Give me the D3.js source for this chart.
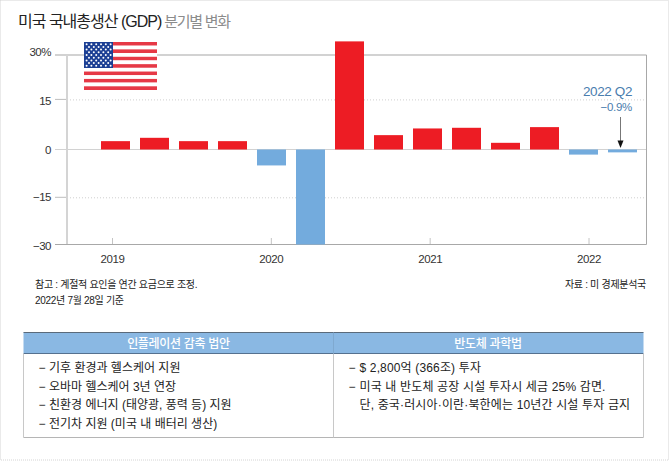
<!DOCTYPE html>
<html lang="ko">
<head>
<meta charset="utf-8">
<script src="https://cdn.jsdelivr.net/npm/d3@7/dist/d3.min.js"></script>
<style>
html,body{margin:0;padding:0;background:#fff;}
svg{display:block;}
text{font-family:"Liberation Sans","Noto Sans CJK KR",sans-serif;}
</style>
</head>
<body>
<div id="chart"></div>
<script>
/* US GDP by quarter. */
var quarters=["2019 Q1","2019 Q2","2019 Q3","2019 Q4","2020 Q1","2020 Q2","2020 Q3","2020 Q4",
    "2021 Q1","2021 Q2","2021 Q3","2021 Q4","2022 Q1","2022 Q2"];
var gdpValues=[2.5,3.5,2.5,2.5,-5,-30,34.6,4.3,6.3,6.5,2,6.7,-1.6,-0.9];
var yTicks=[30,15,0,-15,-30];
var yTickLabels=["30%","15","0","−15","−30"];
var years=[2019,2020,2021,2022];
var noteLines=["참고 : 계절적 요인을 연간 요금으로 조정.","2022년 7월 28일 기준"];
var sourceLine="자료 : 미 경제분석국";
var tableHeaders=["인플레이션 감축 법안","반도체 과학법"];
var leftItems=["기후 환경과 헬스케어 지원","오바마 헬스케어 3년 연장","친환경 에너지 (태양광, 풍력 등) 지원","전기차 지원 (미국 내 배터리 생산)"];
var rightItems=["$ 2,800억 (366조) 투자","미국 내 반도체 공장 시설 투자시 세금 25% 감면.","단, 중국·러시아·이란·북한에는 10년간 시설 투자 금지"];
var rightDashes=[true,true,false];

var W=671,H=461;
var svg=d3.select("#chart").append("svg").attr("width",W).attr("height",H).attr("viewBox","0 0 "+W+" "+H);

/* dotted page border */
svg.append("rect").attr("x",0.5).attr("y",0.5).attr("width",668).attr("height",459.5)
    .attr("fill","none").attr("stroke","#d4d4d4").attr("stroke-dasharray","1,1");

/* title */
var title=svg.append("text").attr("x",18).attr("y",27).attr("font-size",16).attr("letter-spacing",-1);
title.append("tspan").attr("fill","#222").text("미국 국내총생산 (GDP)");
title.append("tspan").attr("fill","#8c8c8c").attr("dx",3).attr("font-size",15).attr("letter-spacing",-1.3).text("분기별 변화");

/* the printed axis is slightly uneven, so the scale follows each tick */
var y=d3.scaleLinear().domain([-30,-15,0,15,30]).range([244.5,197.3,149.5,99.4,55]);
var x=d3.scaleBand().domain(quarters).range([96,642]).paddingInner(10/39).paddingOuter(5/39);
var yearX=d3.scaleLinear().domain([2019,2022]).range([112.5,589]);

var left=67,right=646.5,tickLeft=55;

/* grid */
svg.selectAll("line.grid").data([15,-15]).enter().append("line").attr("class","grid")
    .attr("x1",left).attr("x2",right).attr("y1",function(d){return y(d)+0.5;}).attr("y2",function(d){return y(d)+0.5;})
    .attr("stroke","#cfcfcf").attr("stroke-width",1).attr("stroke-dasharray","1,2");

/* y tick marks */
svg.selectAll("line.ytick").data(yTicks).enter().append("line").attr("class","ytick")
    .attr("x1",tickLeft).attr("x2",left).attr("y1",function(d){return y(d);}).attr("y2",function(d){return y(d);})
    .attr("stroke","#bdbdbd").attr("stroke-width",1);

/* frame */
svg.append("line").attr("x1",tickLeft).attr("x2",right).attr("y1",y(30)).attr("y2",y(30)).attr("stroke","#d2d2d2").attr("stroke-width",2);
svg.append("line").attr("x1",tickLeft).attr("x2",right).attr("y1",y(0)).attr("y2",y(0)).attr("stroke","#d2d2d2").attr("stroke-width",1.2);
svg.append("line").attr("x1",left).attr("x2",left).attr("y1",y(30)).attr("y2",y(-30)).attr("stroke","#d4d4d4").attr("stroke-width",2);
svg.append("line").attr("x1",right).attr("x2",right).attr("y1",y(30)).attr("y2",y(-30)).attr("stroke","#a8a8a8").attr("stroke-width",1);
svg.append("line").attr("x1",tickLeft).attr("x2",right).attr("y1",y(-30)).attr("y2",y(-30)).attr("stroke","#a8a8a8").attr("stroke-width",1);

/* y labels */
svg.selectAll("text.ylabel").data(yTicks).enter().append("text").attr("class","ylabel")
    .attr("x",51).attr("y",function(d){return y(d)+(d===30?1:d===15?5.5:d===-30?5:4);})
    .attr("text-anchor","end").attr("font-size",11.5).attr("letter-spacing",-0.5).attr("fill","#333")
    .text(function(d,i){return yTickLabels[i];});

/* x ticks and labels */
svg.selectAll("line.xtick").data(years).enter().append("line").attr("class","xtick")
    .attr("x1",function(d){return yearX(d);}).attr("x2",function(d){return yearX(d);})
    .attr("y1",238).attr("y2",244).attr("stroke","#c4c4c4").attr("stroke-width",1);
svg.selectAll("text.xlabel").data(years).enter().append("text").attr("class","xlabel")
    .attr("x",function(d){return yearX(d);}).attr("y",263).attr("text-anchor","middle")
    .attr("font-size",11.5).attr("letter-spacing",-0.4).attr("fill","#333").text(function(d){return d;});

/* bars */
svg.selectAll("rect.bar").data(gdpValues).enter().append("rect").attr("class","bar")
    .attr("x",function(d,i){return x(quarters[i]);}).attr("width",x.bandwidth())
    .attr("y",function(d){return d>0?y(d):y(0);})
    .attr("height",function(d){return Math.abs(y(d)-y(0));})
    .attr("fill",function(d){return d>0?"#ed1c24":"#73abdd";});

/* flag */
var flag=svg.append("g");
var fx=d3.scaleLinear().domain([0,1]).range([84,157]);
var fy=d3.scaleLinear().domain([0,13]).range([42,90]);
d3.range(13).forEach(function(i){
    flag.append("rect").attr("x",fx(0)).attr("width",fx(1)-fx(0)).attr("y",fy(i)).attr("height",fy(1)-fy(0))
        .attr("fill",i%2?"#fff":"#e63946");
});
flag.append("rect").attr("x",84).attr("y",42).attr("width",29).attr("height",26).attr("fill","#1c3f94");
d3.range(9).forEach(function(r){
    d3.range(r%2?5:6).forEach(function(c){
        flag.append("circle").attr("cx",86.6+c*4.8+(r%2?2.4:0)).attr("cy",44.2+r*2.7).attr("r",1).attr("fill","#fff");
    });
});

/* annotation */
svg.append("text").attr("x",632).attr("y",95.5).attr("text-anchor","end").attr("font-size",13.5).attr("letter-spacing",-0.4).attr("fill","#4a7dae").text("2022 Q2");
svg.append("text").attr("x",632).attr("y",111).attr("text-anchor","end").attr("font-size",11.5).attr("letter-spacing",-0.3).attr("fill","#4a7dae").text("−0.9%");
svg.append("line").attr("x1",620.5).attr("x2",620.5).attr("y1",117).attr("y2",142).attr("stroke","#777").attr("stroke-width",1);
svg.append("path").attr("d",d3.line()([[617.5,140.5],[623.5,140.5],[620.5,148]])).attr("fill","#111");

/* notes */
svg.selectAll("text.note").data(noteLines).enter().append("text").attr("class","note")
    .attr("x",35).attr("y",function(d,i){return 288+i*16;}).attr("font-size",10).attr("letter-spacing",-0.3).attr("fill","#222")
    .text(function(d){return d;});
svg.append("text").attr("x",646).attr("y",288).attr("text-anchor","end").attr("font-size",10).attr("letter-spacing",-0.3).attr("fill","#222").text(sourceLine);

/* table */
var tL=23.5,tR=643.5,tMid=333.5,tTop=332.5,tHead=353.5,tBot=437.5;
svg.append("rect").attr("x",tL).attr("y",tTop).attr("width",tR-tL).attr("height",tHead-tTop).attr("fill","#8ab8e3");
svg.append("line").attr("x1",tL).attr("x2",tR).attr("y1",tTop).attr("y2",tTop).attr("stroke","#5a6a7a");
svg.append("line").attr("x1",tL).attr("x2",tR).attr("y1",tHead).attr("y2",tHead).attr("stroke","#55718f");
svg.append("line").attr("x1",tL).attr("x2",tR).attr("y1",tBot).attr("y2",tBot).attr("stroke","#b5b5b5").attr("stroke-width",1.2);
svg.append("line").attr("x1",tL).attr("x2",tL).attr("y1",tHead).attr("y2",tBot).attr("stroke","#c8c8c8");
svg.append("line").attr("x1",tR).attr("x2",tR).attr("y1",tHead).attr("y2",tBot).attr("stroke","#c8c8c8");
svg.append("line").attr("x1",tMid).attr("x2",tMid).attr("y1",tHead).attr("y2",tBot).attr("stroke","#c8c8c8");
svg.append("line").attr("x1",tMid).attr("x2",tMid).attr("y1",tTop).attr("y2",tHead).attr("stroke","#7fa9d0");

svg.selectAll("text.thead").data(tableHeaders).enter().append("text").attr("class","thead")
    .attr("x",function(d,i){return i?488:178.5;}).attr("y",347.5).attr("text-anchor","middle")
    .attr("font-size",12).attr("font-weight",500).attr("letter-spacing",-0.3).attr("fill","#fff").text(function(d){return d;});

var rowY=[372,390.5,409,428];
function bodyText(items,dashX,textX,hasDash,spacing){
    var g=svg.append("g");
    items.forEach(function(t,i){
        if(hasDash[i]) g.append("text").attr("x",dashX).attr("y",rowY[i]).attr("font-size",12).attr("fill","#222").text("−");
        g.append("text").attr("x",textX).attr("y",rowY[i]).attr("font-size",12).attr("letter-spacing",spacing).attr("fill","#222").text(t);
    });
}
bodyText(leftItems,38.5,49,leftItems.map(function(){return true;}),0);
bodyText(rightItems,348.5,359.5,rightDashes,0.15);
</script>
</body>
</html>
